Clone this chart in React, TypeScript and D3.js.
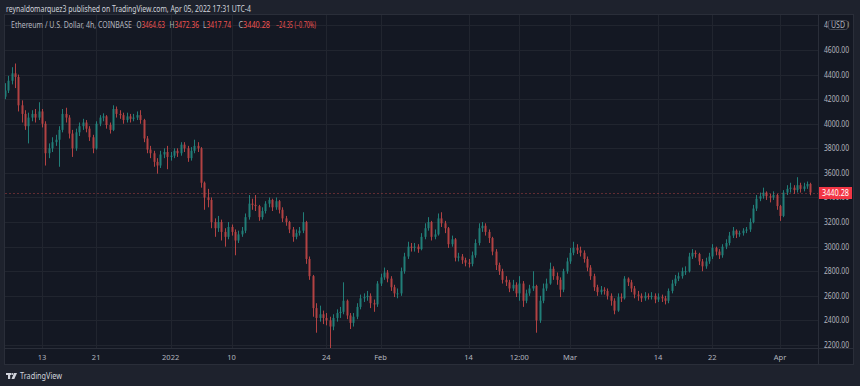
import React, { useRef, useEffect } from 'react';
import * as d3 from 'd3';

// 12h candles, ETH/USD Dec 7 2021 12:00 UTC -> Apr 5 2022
const firstTime = Date.UTC(2021, 11, 7, 12)
const stepMs = 12 * 3600 * 1000
const firstOpen = 4220

const closes = [
  4270, 4350, 4410, 4380, 4150, 4080, 3980, 4050, 4080, 4050,
  4100, 4000, 3760, 3800, 3850, 3870, 3950, 4080, 4050, 3920,
  3800, 3930, 3980, 4010, 3960, 3890, 3800, 4000, 4050, 4060,
  3990, 3950, 4120, 4080, 4070, 4030, 4060, 4040, 4050, 4070,
  4030, 3880, 3790, 3760, 3690, 3660, 3750, 3770, 3730, 3740,
  3780, 3760, 3830, 3800, 3720, 3780, 3820, 3800, 3520, 3400,
  3380, 3200, 3150, 3200, 3120, 3080, 3160, 3120, 3050, 3100,
  3130, 3240, 3350, 3340, 3330, 3240, 3290, 3350, 3380, 3320,
  3370, 3300, 3230, 3200, 3140, 3080, 3110, 3130, 3200, 2900,
  2760, 2500, 2420, 2450, 2420, 2400, 2350, 2420, 2460, 2470,
  2560, 2440, 2380, 2430, 2510, 2580, 2590, 2600, 2540, 2530,
  2700, 2750, 2790, 2740, 2670, 2620, 2620, 2800, 2920, 3000,
  2990, 3000, 2980, 3080, 3150, 3200, 3080, 3100, 3230, 3190,
  3150, 3020, 3060, 2910, 2920, 2890, 2870, 2860, 2930, 3030,
  3150, 3170, 3120, 3070, 2960, 2850, 2800, 2730, 2710, 2660,
  2690, 2620, 2700, 2560, 2620, 2660, 2680, 2400, 2560, 2660,
  2700, 2820, 2760, 2730, 2650, 2800, 2880, 2950, 2990, 2970,
  2950, 2900, 2830, 2760, 2670, 2630, 2650, 2640, 2600, 2560,
  2480, 2590, 2580, 2740, 2710, 2660, 2610, 2600, 2580, 2600,
  2590, 2600, 2570, 2590, 2580, 2560, 2640, 2700, 2740, 2760,
  2800, 2800, 2920, 2950, 2940, 2880, 2840, 2880, 2920, 2990,
  2960, 2930, 3000, 3030, 3090, 3130, 3100, 3110, 3130, 3140,
  3200, 3310, 3390, 3410, 3440, 3410, 3400, 3420, 3330, 3250,
  3440, 3470, 3480, 3460, 3500, 3470, 3490, 3510, 3440.28,
]

const highs = [
  4330, 4390, 4460, 4490, 4400, 4190, 4110, 4090, 4110, 4120,
  4175, 4120, 4020, 3840, 3890, 3910, 3980, 4120, 4130, 4070,
  3950, 3960, 4010, 4040, 4030, 3980, 3910, 4020, 4070, 4085,
  4070, 4010, 4150, 4140, 4110, 4090, 4090, 4080, 4080, 4100,
  4110, 4040, 3900, 3820, 3780, 3720, 3780, 3800, 3820, 3770,
  3800, 3800, 3850, 3850, 3820, 3810, 3870, 3850, 3810, 3530,
  3470, 3400, 3230, 3250, 3220, 3150, 3200, 3180, 3140, 3130,
  3160, 3270, 3420, 3390, 3420, 3340, 3320, 3370, 3400, 3390,
  3400, 3380, 3320, 3250, 3210, 3160, 3140, 3160, 3280, 3210,
  2920, 2770, 2540, 2520, 2480, 2460, 2430, 2450, 2490, 2510,
  2710, 2570, 2460, 2460, 2540, 2610, 2620, 2640, 2620, 2570,
  2720, 2780, 2830, 2810, 2760, 2690, 2660, 2830, 2950, 3040,
  3030, 3030, 3020, 3110, 3190, 3240, 3210, 3140, 3270, 3280,
  3210, 3160, 3090, 3070, 2950, 2940, 2910, 2900, 2960, 3060,
  3190, 3200, 3190, 3140, 3080, 2980, 2870, 2820, 2760, 2730,
  2730, 2710, 2760, 2720, 2650, 2690, 2800, 2690, 2600, 2700,
  2740, 2870, 2840, 2790, 2750, 2820, 2910, 2990, 3040, 3020,
  3000, 2970, 2920, 2850, 2780, 2690, 2680, 2670, 2660, 2620,
  2580, 2620, 2620, 2760, 2750, 2730, 2680, 2640, 2620, 2630,
  2620, 2630, 2620, 2620, 2610, 2600, 2660, 2730, 2770, 2790,
  2830, 2840, 2950, 2980, 2970, 2950, 2900, 2910, 2950, 3020,
  3000, 2980, 3020, 3060, 3120, 3160, 3140, 3130, 3150, 3160,
  3230, 3340, 3420, 3440, 3480, 3450, 3430, 3450, 3430, 3340,
  3460, 3500, 3520, 3500, 3565, 3520, 3520, 3530, 3520,
]

const lows = [
  4200, 4250, 4320, 4290, 4100, 4010, 3950, 3840, 4020, 4010,
  4030, 3970, 3660, 3720, 3770, 3820, 3650, 3930, 4010, 3880,
  3730, 3780, 3900, 3950, 3930, 3860, 3760, 3790, 3980, 4020,
  3960, 3920, 3940, 4050, 4040, 4000, 4010, 4010, 4020, 4030,
  4000, 3850, 3760, 3720, 3650, 3594, 3640, 3720, 3630, 3700,
  3720, 3730, 3740, 3770, 3690, 3700, 3760, 3770, 3480, 3300,
  3320, 3150, 3080, 3120, 3050, 3000, 3060, 3090, 2930, 3030,
  3080, 3110, 3220, 3300, 3290, 3210, 3220, 3270, 3320, 3290,
  3300, 3270, 3200, 3170, 3110, 3040, 3060, 3090, 3110, 2860,
  2730, 2430, 2300, 2390, 2370, 2360, 2170, 2320, 2390, 2420,
  2450, 2410, 2330, 2350, 2410, 2490, 2550, 2560, 2500, 2470,
  2510, 2680, 2730, 2710, 2640, 2590, 2580, 2600, 2780, 2900,
  2960, 2960, 2950, 2970, 3060, 3130, 3050, 3060, 3090, 3160,
  3110, 2990, 3000, 2880, 2880, 2860, 2840, 2830, 2840, 2910,
  3010, 3120, 3090, 3030, 2930, 2810, 2770, 2700, 2680, 2630,
  2640, 2590, 2560, 2510, 2540, 2600, 2640, 2300, 2380, 2540,
  2640, 2690, 2730, 2690, 2590, 2630, 2780, 2860, 2930, 2940,
  2920, 2870, 2800, 2730, 2640, 2600, 2610, 2610, 2570, 2520,
  2450, 2470, 2550, 2570, 2680, 2630, 2580, 2560, 2550, 2560,
  2570, 2570, 2540, 2550, 2550, 2530, 2540, 2620, 2680, 2720,
  2740, 2770, 2790, 2900, 2910, 2850, 2800, 2820, 2860, 2900,
  2930, 2900, 2910, 2980, 3010, 3070, 3070, 3080, 3090, 3110,
  3120, 3190, 3290, 3370, 3390, 3380, 3360, 3380, 3300, 3210,
  3240, 3420, 3440, 3430, 3440, 3440, 3450, 3470, 3417.74,
]

const priceTicks = [2200, 2400, 2600, 2800, 3000, 3200, 3400, 3600, 3800, 4000, 4200, 4400, 4600, 4800]

const tickDates = [
  Date.UTC(2021, 11, 13), Date.UTC(2021, 11, 21), Date.UTC(2022, 0, 1), Date.UTC(2022, 0, 10),
  Date.UTC(2022, 0, 24), Date.UTC(2022, 1, 1), Date.UTC(2022, 1, 14), Date.UTC(2022, 1, 21, 12),
  Date.UTC(2022, 2, 1), Date.UTC(2022, 2, 14), Date.UTC(2022, 2, 22), Date.UTC(2022, 3, 1),
]
const tickLabels = ['13', '21', '2022', '10', '24', 'Feb', '14', '12:00', 'Mar', '14', '22', 'Apr']

// last 4h bar shown in the legend
const legendKeys = ['O', 'H', 'L', 'C']
const legendValues = ['3464.63', '3472.36', '3417.74', '3440.28']
const lastPrice = 3440.28

const width = 860
const height = 386
const up = '#26a69a'
const down = '#ef5350'
const font = "'Noto Sans', Roboto, sans-serif"

function App() {
  const svgRef = useRef(null)

  useEffect(() => {
    const svg = d3.select(svgRef.current)
    svg.selectAll('*').remove()

    const left = 5, right = 818, top = 15, bottom = 348

    const x = d3.scaleTime()
      .domain([new Date(Date.UTC(2021, 11, 13)), new Date(Date.UTC(2022, 3, 1))])
      .range([42, 780])
    const y = d3.scaleLinear().domain([2200, 4800]).range([345, 25.4])

    svg.append('rect').attr('width', width).attr('height', height).attr('fill', '#1e222d')
    svg.append('rect')
      .attr('x', 4.5).attr('y', 14.5).attr('width', 849).attr('height', 350)
      .attr('fill', '#141823').attr('stroke', '#2a2e39')

    // grid
    svg.append('g').selectAll('line').data(priceTicks).join('line')
      .attr('x1', left).attr('x2', right)
      .attr('y1', d => Math.round(y(d)) + 0.5).attr('y2', d => Math.round(y(d)) + 0.5)
      .attr('stroke', '#21252f')
    svg.append('g').selectAll('line').data(tickDates).join('line')
      .attr('x1', d => Math.round(x(new Date(d))) + 0.5).attr('x2', d => Math.round(x(new Date(d))) + 0.5)
      .attr('y1', top).attr('y2', bottom)
      .attr('stroke', '#21252f')

    // axis separators
    svg.append('line').attr('x1', right + 0.5).attr('x2', right + 0.5).attr('y1', top).attr('y2', 364)
      .attr('stroke', '#2a2e39')
    svg.append('line').attr('x1', left).attr('x2', 853).attr('y1', bottom + 0.5).attr('y2', bottom + 0.5)
      .attr('stroke', '#2a2e39')

    // candles
    const bars = closes.map((c, i) => ({
      t: new Date(firstTime + i * stepMs),
      o: i === 0 ? firstOpen : closes[i - 1],
      c: c,
      h: highs[i],
      l: lows[i],
    }))

    svg.append('clipPath').attr('id', 'plot')
      .append('rect').attr('x', left).attr('y', top).attr('width', right - left).attr('height', bottom - top)

    const candle = svg.append('g').attr('clip-path', 'url(#plot)')
      .selectAll('g').data(bars).join('g')
      .attr('fill', d => d.c >= d.o ? up : down)
      .attr('stroke', d => d.c >= d.o ? up : down)
      .attr('opacity', 0.72)

    candle.append('line')
      .attr('x1', d => Math.round(x(d.t)) + 0.5).attr('x2', d => Math.round(x(d.t)) + 0.5)
      .attr('y1', d => y(d.h)).attr('y2', d => y(d.l))
      .attr('stroke-width', 1)

    candle.append('rect')
      .attr('x', d => Math.round(x(d.t)) - 0.5)
      .attr('width', 2)
      .attr('y', d => Math.min(y(d.o), y(d.c)))
      .attr('height', d => Math.max(1, Math.abs(y(d.o) - y(d.c))))
      .attr('stroke', 'none')

    // last price line
    svg.append('line')
      .attr('x1', left).attr('x2', right)
      .attr('y1', Math.round(y(lastPrice)) + 0.5).attr('y2', Math.round(y(lastPrice)) + 0.5)
      .attr('stroke', down).attr('stroke-opacity', 0.35).attr('stroke-dasharray', '2,2')

    // price axis
    svg.append('g').selectAll('text').data(priceTicks).join('text')
      .attr('x', 824).attr('y', d => y(d) + 3)
      .attr('textLength', 25).attr('lengthAdjust', 'spacingAndGlyphs')
      .attr('font-family', font).attr('font-size', 8).attr('fill', '#b2b5be')
      .text(d => d.toFixed(2))

    svg.append('rect')
      .attr('x', 828.5).attr('y', 20.5).attr('width', 19).attr('height', 9).attr('rx', 2)
      .attr('fill', '#141823').attr('stroke', '#434651')
    svg.append('text')
      .attr('x', 838).attr('y', 28).attr('text-anchor', 'middle')
      .attr('textLength', 14).attr('lengthAdjust', 'spacingAndGlyphs')
      .attr('font-family', font).attr('font-size', 8).attr('fill', '#b2b5be')
      .text('USD')

    svg.append('rect')
      .attr('x', 819).attr('y', Math.round(y(lastPrice)) - 6).attr('width', 33).attr('height', 12)
      .attr('fill', '#f23645')
    svg.append('text')
      .attr('x', 822).attr('y', y(lastPrice) + 3)
      .attr('textLength', 27).attr('lengthAdjust', 'spacingAndGlyphs')
      .attr('font-family', font).attr('font-size', 8).attr('fill', '#ffffff')
      .text(lastPrice.toFixed(2))

    // time axis
    svg.append('g').selectAll('text').data(tickDates).join('text')
      .attr('x', d => x(new Date(d))).attr('y', 360)
      .attr('text-anchor', 'middle')
      .attr('font-family', font).attr('font-size', 7.5).attr('fill', '#b2b5be')
      .text((d, i) => tickLabels[i])

    // header + legend
    svg.append('text')
      .attr('x', 6).attr('y', 12)
      .attr('textLength', 245).attr('lengthAdjust', 'spacingAndGlyphs')
      .attr('font-family', font).attr('font-size', 8.5).attr('fill', '#d1d4dc')
      .text('reynaldomarquez3 published on TradingView.com, Apr 05, 2022 17:31 UTC-4')

    svg.append('text')
      .attr('x', 11).attr('y', 28)
      .attr('textLength', 121).attr('lengthAdjust', 'spacingAndGlyphs')
      .attr('font-family', font).attr('font-size', 8).attr('fill', '#b2b5be')
      .text('Ethereum / U.S. Dollar, 4h, COINBASE')

    // each key + value pair is one text so the letter and number sit tight
    const pairX = [136.5, 169.5, 203, 238.5]
    const pairLen = [28.5, 29.5, 28, 31.5]
    legendKeys.forEach((k, i) => {
      const t = svg.append('text')
        .attr('x', pairX[i]).attr('y', 28)
        .attr('textLength', pairLen[i]).attr('lengthAdjust', 'spacingAndGlyphs')
        .attr('font-family', font).attr('font-size', 8)
      t.append('tspan').attr('fill', '#b2b5be').text(k)
      t.append('tspan').attr('fill', down).text(legendValues[i])
    })
    svg.append('text')
      .attr('x', 276).attr('y', 28)
      .attr('textLength', 40).attr('lengthAdjust', 'spacingAndGlyphs')
      .attr('font-family', font).attr('font-size', 8).attr('fill', down)
      .text('\u221224.35 (\u22120.70%)')

    // TradingView mark
    const logo = svg.append('g').attr('fill', '#d1d4dc')
    logo.append('rect').attr('x', 6).attr('y', 373).attr('width', 5).attr('height', 2)
    logo.append('rect').attr('x', 8).attr('y', 373).attr('width', 2.2).attr('height', 6)
    logo.append('circle').attr('cx', 12.3).attr('cy', 374).attr('r', 1.1)
    logo.append('path').attr('d', 'M14,373 L17,373 L14.3,379 L11.5,379 Z')
    svg.append('text')
      .attr('x', 20).attr('y', 379)
      .attr('textLength', 42).attr('lengthAdjust', 'spacingAndGlyphs')
      .attr('font-family', font).attr('font-size', 9).attr('fill', '#d1d4dc')
      .text('TradingView')
  }, [])

  return (
    <svg ref={svgRef} width={width} height={height}
      style={{ position: 'fixed', left: 0, top: 0, display: 'block' }} />
  )
}

export default App;
